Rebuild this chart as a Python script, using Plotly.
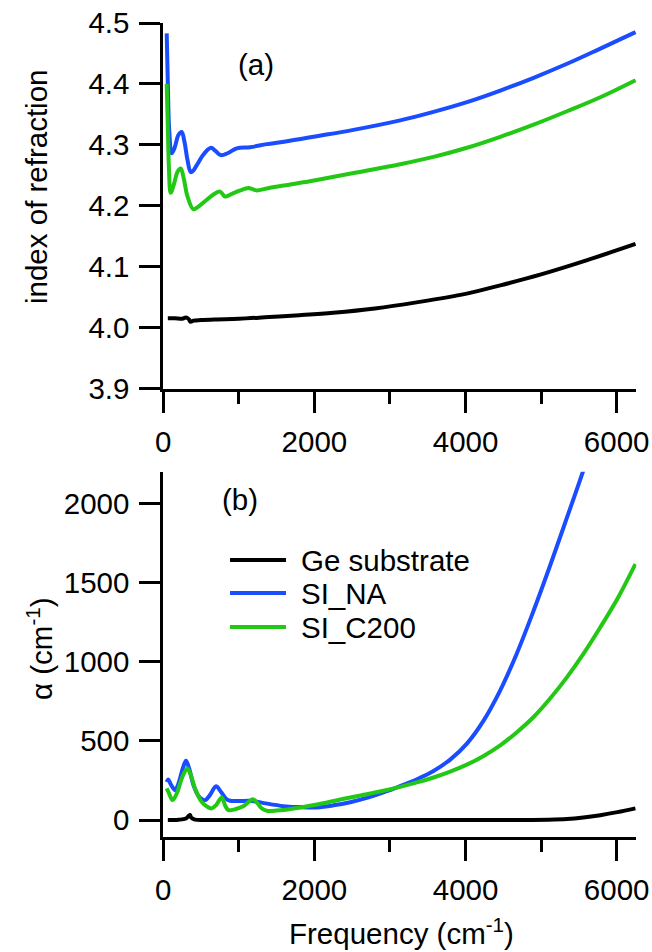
import plotly.graph_objects as go

W, H = 652, 952
FONT = "Liberation Sans, Arial, sans-serif"
FS = 29.5

# ---- panel (a): index of refraction vs frequency (cm^-1) ----
freq_n_ge = [60, 150, 250, 300, 340, 360, 400, 500, 700, 1000, 1400, 1800, 2250,
             2800, 3350, 4000, 4460, 5000, 5600, 6250]
n_ge = [4.015, 4.015, 4.014, 4.016, 4.013, 4.009, 4.011, 4.012, 4.013, 4.014, 4.017,
        4.020, 4.024, 4.031, 4.041, 4.055, 4.069, 4.087, 4.110, 4.137]

freq_n_na = [45, 60, 80, 111, 150, 200, 243, 280, 320, 363, 400, 450, 520, 580, 632,
             690, 760, 850, 972, 1150, 1370, 1600, 2032, 2500, 3135, 3576, 4019, 4460,
             4901, 5343, 5784, 6250]
n_na = [4.483, 4.40, 4.32, 4.286, 4.295, 4.316, 4.321, 4.305, 4.275, 4.255, 4.258,
        4.268, 4.282, 4.291, 4.295, 4.290, 4.283, 4.286, 4.294, 4.296, 4.301, 4.305,
        4.314, 4.324, 4.340, 4.354, 4.370, 4.389, 4.410, 4.433, 4.458, 4.485]

freq_n_c200 = [45, 60, 75, 98, 140, 190, 230, 270, 320, 397, 450, 550, 650, 751, 817,
               900, 1000, 1126, 1180, 1236, 1400, 1700, 2032, 2500, 3135, 3576, 4019,
               4460, 4901, 5343, 5784, 6250]
n_c200 = [4.400, 4.33, 4.26, 4.221, 4.235, 4.256, 4.261, 4.245, 4.215, 4.194, 4.197,
          4.207, 4.217, 4.223, 4.215, 4.219, 4.224, 4.229, 4.227, 4.225, 4.229, 4.235,
          4.242, 4.253, 4.268, 4.280, 4.295, 4.313, 4.333, 4.355, 4.378, 4.406]

# ---- panel (b): absorption coefficient alpha (cm^-1) vs frequency ----
freq_a_ge = [60, 200, 300, 340, 353, 370, 420, 600, 1000, 2000, 3000, 4000, 4800,
             5100, 5343, 5560, 5784, 6010, 6248]
a_ge = [0, 2, 10, 28, 32, 15, 3, 1, 1, 1, 1, 1, 1, 2, 6, 16, 31, 50, 74]

freq_a_na = [45, 66, 100, 155, 200, 260, 300, 340, 400, 470, 552, 620, 698, 760, 830,
             883, 1000, 1148, 1300, 1590, 1800, 2032, 2252, 2473, 2694, 2914, 3135,
             3356, 3576, 3797, 4018, 4239, 4459, 4680, 4901, 5122, 5343, 5564, 5650]
a_na = [240, 256, 225, 189, 230, 330, 374, 330, 220, 150, 126, 160, 214, 180, 135,
        122, 120, 122, 110, 88, 82, 80, 93, 113, 140, 175, 215, 258, 310, 382, 483,
        628, 819, 1054, 1323, 1611, 1911, 2215, 2345]

freq_a_c200 = [45, 70, 124, 180, 250, 318, 360, 420, 500, 580, 641, 700, 773, 820, 861,
               950, 1050, 1130, 1184, 1240, 1300, 1370, 1500, 1811, 2100, 2473, 2694,
               2914, 3135, 3356, 3576, 3797, 4018, 4239, 4459, 4680, 4901, 5122, 5343,
               5564, 5784, 6016, 6248]
a_c200 = [200, 175, 126, 170, 270, 326, 290, 200, 120, 85, 74, 95, 143, 90, 63, 68,
          85, 115, 132, 110, 75, 59, 60, 80, 105, 143, 163, 185, 210, 238, 269, 306,
          350, 405, 472, 555, 651, 769, 903, 1053, 1218, 1403, 1617]

names = ["Ge substrate", "SI_NA", "SI_C200"]
colors = ["#000000", "#1a4dff", "#22c814"]

panel_a = [(freq_n_ge, n_ge), (freq_n_na, n_na), (freq_n_c200, n_c200)]
panel_b = [(freq_a_ge, a_ge), (freq_a_na, a_na), (freq_a_c200, a_c200)]


def fx(px):
    return px / W


def fy(px):
    return 1 - px / H


fig = go.Figure()
for (xs, ys), name, col in zip(panel_a, names, colors):
    fig.add_trace(go.Scatter(x=xs, y=ys, mode="lines", name=name, showlegend=False,
                             line=dict(color=col, width=4, shape="spline", smoothing=1.0),
                             xaxis="x", yaxis="y"))
for (xs, ys), name, col in zip(panel_b, names, colors):
    fig.add_trace(go.Scatter(x=xs, y=ys, mode="lines", name=name, showlegend=False,
                             line=dict(color=col, width=4, shape="spline", smoothing=1.0),
                             xaxis="x2", yaxis="y2"))

axis_common = dict(showline=True, linewidth=3, linecolor="black", ticks="outside",
                   ticklen=21, tickwidth=3, tickcolor="black", showgrid=False,
                   zeroline=False, automargin=False,
                   tickfont=dict(family=FONT, size=FS, color="black"))
x_common = dict(axis_common, range=[0, 6260], tickvals=[0, 2000, 4000, 6000],
                domain=[fx(163.3), fx(636.3)], ticklabelstandoff=4,
                minor=dict(ticks="outside", ticklen=12, tickwidth=3, tickcolor="black",
                           tickvals=[1000, 3000, 5000], showgrid=False))
y_common = dict(axis_common, ticklabelstandoff=4)

fig.update_layout(
    width=W, height=H, autosize=False,
    margin=dict(l=0, r=0, t=0, b=0),
    paper_bgcolor="white", plot_bgcolor="white",
    font=dict(family=FONT, size=FS, color="black"),
    xaxis=dict(x_common, anchor="y"),
    yaxis=dict(y_common, anchor="x", range=[3.8995, 4.5005],
               tickvals=[3.9, 4.0, 4.1, 4.2, 4.3, 4.4, 4.5], tickformat=".1f",
               domain=[fy(388.5), fy(22.7)]),
    xaxis2=dict(x_common, anchor="y2"),
    yaxis2=dict(y_common, anchor="x2", range=[-105, 2200],
                tickvals=[0, 500, 1000, 1500, 2000],
                domain=[fy(836.7), fy(471.7)]),
)

annotations = [
    dict(text="(a)", x=fx(256), y=fy(65)),
    dict(text="(b)", x=fx(240), y=fy(499)),
    dict(text="index of refraction", x=fx(37), y=fy(187), textangle=-90),
    dict(text="α (cm<sup>-1</sup>)", x=fx(39), y=fy(649), textangle=-90),
    dict(text="Frequency (cm<sup>-1</sup>)", x=fx(401), y=fy(951), yanchor="bottom"),
]
# legend for panel (b)
legend_y = [560, 593, 627]
shapes = []
for name, col, ly in zip(names, colors, legend_y):
    shapes.append(dict(type="line", xref="paper", yref="paper",
                       x0=fx(230), x1=fx(286), y0=fy(ly), y1=fy(ly),
                       line=dict(color=col, width=4)))
    annotations.append(dict(text=name, x=fx(300), y=fy(ly), xanchor="left"))

for a in annotations:
    a.setdefault("xanchor", "center")
    a.setdefault("yanchor", "middle")
    a.update(xref="paper", yref="paper", showarrow=False, borderpad=0,
             font=dict(family=FONT, size=FS, color="black"))

fig.update_layout(annotations=annotations, shapes=shapes)
fig.write_html("out.html")
